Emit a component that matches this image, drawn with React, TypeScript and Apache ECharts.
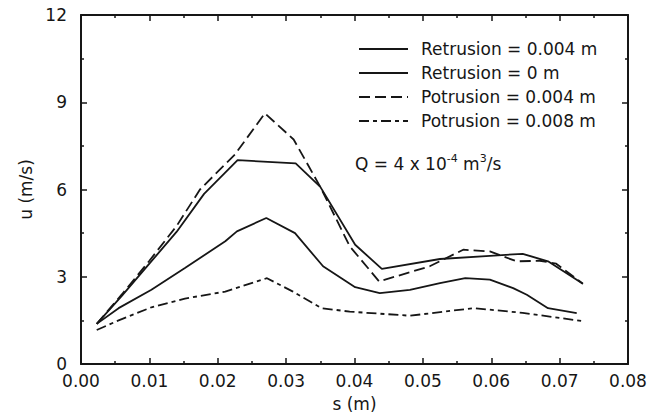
import React, { useEffect, useRef } from "react";
import * as echarts from "echarts";

const seriesNames = [
  "Retrusion = 0.004 m",
  "Retrusion = 0 m",
  "Potrusion = 0.004 m",
  "Potrusion = 0.008 m",
];

const sRet004 = [0.0023, 0.006, 0.010, 0.014, 0.018, 0.0229, 0.0314, 0.035, 0.0401, 0.044, 0.0525, 0.0598, 0.0646, 0.0683, 0.0734];
const uRet004 = [1.38, 2.35, 3.45, 4.55, 5.85, 7.01, 6.9, 6.09, 4.1, 3.27, 3.61, 3.72, 3.79, 3.53, 2.76];

const sRet0 = [0.0023, 0.0055, 0.0103, 0.0152, 0.0211, 0.0228, 0.0271, 0.0313, 0.0354, 0.0401, 0.0437, 0.0481, 0.0525, 0.0562, 0.0598, 0.0632, 0.0652, 0.0683, 0.0725];
const uRet0 = [1.38, 1.92, 2.55, 3.3, 4.22, 4.56, 5.02, 4.5, 3.36, 2.64, 2.44, 2.55, 2.78, 2.95, 2.9, 2.61, 2.38, 1.92, 1.75];

const sPot004 = [0.0023, 0.006, 0.010, 0.014, 0.0174, 0.0225, 0.0269, 0.0311, 0.035, 0.0393, 0.0436, 0.051, 0.0559, 0.0598, 0.0637, 0.0671, 0.0695, 0.0734];
const uPot004 = [1.38, 2.4, 3.55, 4.75, 6.0, 7.2, 8.62, 7.72, 6.09, 4.05, 2.84, 3.36, 3.93, 3.87, 3.53, 3.55, 3.45, 2.76];

const sPot008 = [0.0023, 0.0055, 0.0103, 0.0152, 0.0211, 0.0272, 0.031, 0.0352, 0.0393, 0.0481, 0.0574, 0.0646, 0.0732];
const uPot008 = [1.17, 1.5, 1.95, 2.25, 2.49, 2.95, 2.49, 1.92, 1.8, 1.66, 1.92, 1.76, 1.48];

const xTicks = { min: 0, max: 0.08, interval: 0.01 };
const yTicks = { min: 0, max: 12, interval: 3 };

const FONT = "DejaVu Sans";
const INK = "#161616";

function pairs(xs: number[], ys: number[]) {
  return xs.map((x, i) => [x, ys[i]]);
}

export default function App() {
  const ref = useRef<HTMLDivElement>(null);
  useEffect(() => {
    if (!ref.current) return;
    const chart = echarts.init(ref.current, undefined, { renderer: "svg" });
    const axisCommon = {
      axisLine: { show: true, onZero: false, lineStyle: { color: INK, width: 2 } },
      axisTick: { show: true, inside: true, length: 6, lineStyle: { color: INK, width: 1.5 } },
      minorTick: { show: true, splitNumber: 2, length: 3, lineStyle: { color: INK, width: 1.5 } },
      splitLine: { show: false },
    };
    const mk = (name: string, data: number[][], type: any) => ({
      name,
      type: "line",
      data,
      symbol: "none",
      lineStyle: { color: INK, width: 1.8, type },
      itemStyle: { color: INK },
    });
    chart.setOption({
      animation: false,
      grid: { left: 81, right: 28, top: 15, bottom: 54 },
      legend: {
        orient: "vertical",
        left: 353,
        top: 34,
        itemWidth: 49,
        itemHeight: 14,
        itemGap: 4,
        data: seriesNames,
        itemStyle: { opacity: 0 },
        textStyle: { fontFamily: FONT, fontSize: 17, color: INK, lineHeight: 20, padding: [0, 0, 0, 8] },
      },
      xAxis: [
        {
          type: "value",
          position: "bottom",
          ...xTicks,
          ...axisCommon,
          name: "s (m)",
          nameLocation: "middle",
          nameGap: 31,
          nameTextStyle: { fontFamily: FONT, fontSize: 17, color: INK },
          axisLabel: {
            fontFamily: FONT,
            fontSize: 17,
            color: INK,
            margin: 8,
            formatter: (v: number) => v.toFixed(2),
          },
        },
        {
          type: "value",
          position: "top",
          ...xTicks,
          ...axisCommon,
          axisLabel: { show: false },
        },
      ],
      yAxis: [
        {
          type: "value",
          position: "left",
          ...yTicks,
          ...axisCommon,
          name: "u (m/s)",
          nameLocation: "middle",
          nameGap: 36,
          nameTextStyle: { fontFamily: FONT, fontSize: 17, color: INK },
          axisLabel: { fontFamily: FONT, fontSize: 17, color: INK, margin: 14 },
        },
        {
          type: "value",
          position: "right",
          ...yTicks,
          ...axisCommon,
          axisLabel: { show: false },
        },
      ],
      graphic: [
        {
          type: "text",
          left: 355,
          top: 153,
          style: {
            text: "{n|Q = 4 x 10}{s|-4}{n| m}{s|3}{n|/s}",
            rich: {
              n: { fontFamily: FONT, fontSize: 17, lineHeight: 22, fill: INK },
              s: { fontFamily: FONT, fontSize: 11, lineHeight: 12, verticalAlign: "top", fill: INK },
            },
          },
        },
      ],
      series: [
        mk(seriesNames[0], pairs(sRet004, uRet004), "solid"),
        mk(seriesNames[1], pairs(sRet0, uRet0), "solid"),
        mk(seriesNames[2], pairs(sPot004, uPot004), [11, 5]),
        mk(seriesNames[3], pairs(sPot008, uPot008), [10, 4, 4, 4]),
      ],
    });
    return () => chart.dispose();
  }, []);
  return (
    <div
      ref={ref}
      style={{ position: "absolute", left: 0, top: 0, width: 656, height: 418, background: "#fff" }}
    />
  );
}
